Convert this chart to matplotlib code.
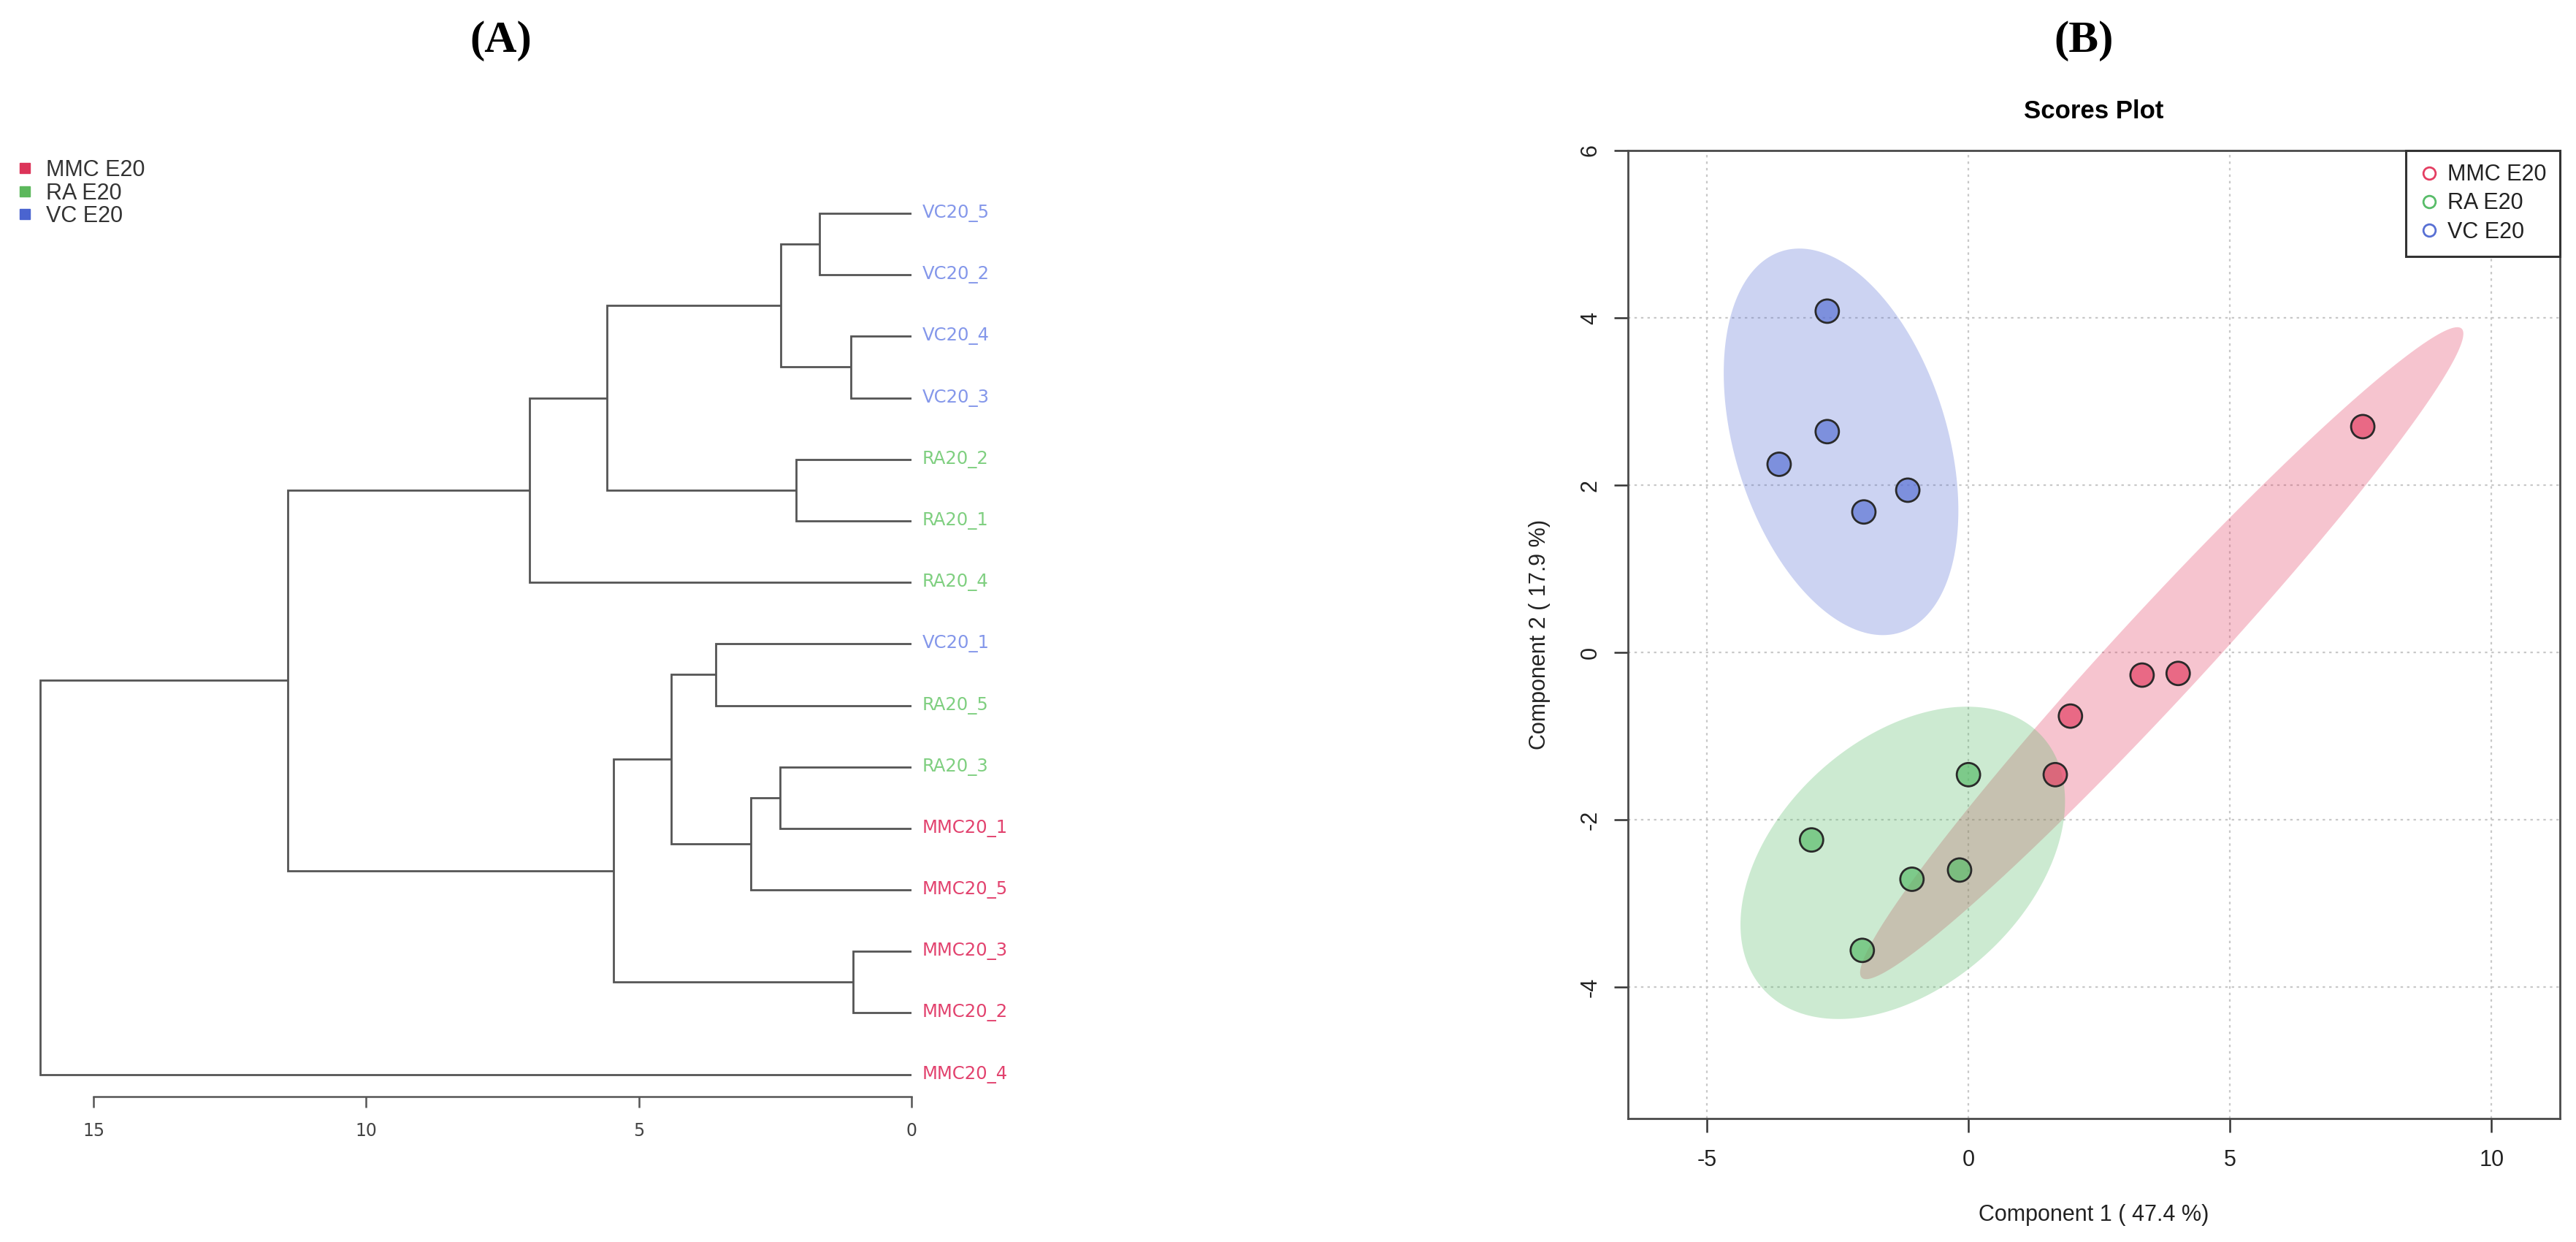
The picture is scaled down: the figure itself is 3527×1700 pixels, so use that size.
import numpy as np
import matplotlib
matplotlib.use('Agg')
import matplotlib.pyplot as plt
from matplotlib.lines import Line2D

# ---------------- data ----------------
group_names = ['MMC E20', 'RA E20', 'VC E20']
legend_colors_a = ['#dc3459', '#5cb85c', '#4a64d0']
label_colors = {'MMC': '#e2426e', 'RA': '#7fcf80', 'VC': '#8497ea'}

leaf_labels = ['VC20_5', 'VC20_2', 'VC20_4', 'VC20_3', 'RA20_2', 'RA20_1', 'RA20_4',
               'VC20_1', 'RA20_5', 'RA20_3', 'MMC20_1', 'MMC20_5', 'MMC20_3', 'MMC20_2', 'MMC20_4']
leaf_groups = ['VC', 'VC', 'VC', 'VC', 'RA', 'RA', 'RA',
               'VC', 'RA', 'RA', 'MMC', 'MMC', 'MMC', 'MMC', 'MMC']
merge_left = ['VC20_5', 'VC20_4', 'm0', 'RA20_2', 'm2', 'm4', 'VC20_1', 'RA20_3', 'm7',
              'm6', 'MMC20_3', 'm9', 'm5', 'm12']
merge_right = ['VC20_2', 'VC20_3', 'm1', 'RA20_1', 'm3', 'RA20_4', 'RA20_5', 'MMC20_1',
               'MMC20_5', 'm8', 'MMC20_2', 'm10', 'm11', 'MMC20_4']
merge_height = [1.69, 1.11, 2.40, 2.12, 5.58, 7.00, 3.59, 2.41, 2.94, 4.40, 1.07, 5.47, 11.44, 15.98]
dendro_ticks = [15, 10, 5, 0]

mmc_x = [7.54, 3.32, 4.01, 1.95, 1.66]
mmc_y = [2.70, -0.27, -0.25, -0.76, -1.46]
ra_x = [0.00, -3.00, -1.08, -0.17, -2.03]
ra_y = [-1.46, -2.24, -2.71, -2.60, -3.56]
vc_x = [-2.70, -2.70, -3.62, -1.16, -2.00]
vc_y = [4.08, 2.64, 2.25, 1.94, 1.68]
score_colors = ['#e43e62', '#58bc69', '#5870d4']
x_ticks = [-5, 0, 5, 10]
y_ticks = [-4, -2, 0, 2, 4, 6]

# ---------------- figure ----------------
W, H = 3527, 1700
fig = plt.figure(figsize=(W / 100, H / 100), dpi=100)


def add_ax(l, t, r, b):
    return fig.add_axes([l / W, 1 - b / H, (r - l) / W, (b - t) / H])


SANS = ['Liberation Sans', 'DejaVu Sans']
SERIF = ['Liberation Serif', 'DejaVu Serif']

# panel titles
fig.text(686 / W, 1 - 56 / H, '(A)', ha='center', va='center', fontsize=44,
         fontweight='bold', family=SERIF)
fig.text(2853 / W, 1 - 56 / H, '(B)', ha='center', va='center', fontsize=44,
         fontweight='bold', family=SERIF)

# ---------------- panel A : dendrogram ----------------
axA = add_ax(16, 230, 1248, 1501)
axA.set_xlim(16.5, 0)
axA.set_ylim(14.36, -0.736)
line_col = '#555555'

pos = {}
for i, name in enumerate(leaf_labels):
    pos[name] = (float(i), 0.0)
for k, (l, r, h) in enumerate(zip(merge_left, merge_right, merge_height)):
    yl, hl = pos[l]
    yr, hr = pos[r]
    axA.plot([hl, h, h, hr], [yl, yl, yr, yr], color=line_col, lw=2.0,
             solid_joinstyle='miter', solid_capstyle='butt')
    pos['m%d' % k] = ((yl + yr) / 2, h)

for i, (name, g) in enumerate(zip(leaf_labels, leaf_groups)):
    axA.annotate(name, xy=(0, i), xytext=(10.5, 0), textcoords='offset points',
                 ha='left', va='center', fontsize=17.5, color=label_colors[g],
                 family=['DejaVu Sans'], annotation_clip=False)

for s in ['top', 'left', 'right']:
    axA.spines[s].set_visible(False)
axA.spines['bottom'].set_bounds(min(dendro_ticks), max(dendro_ticks))
axA.spines['bottom'].set_color(line_col)
axA.spines['bottom'].set_linewidth(1.8)
axA.set_yticks([])
axA.set_xticks(dendro_ticks)
axA.set_xticklabels([str(t) for t in dendro_ticks], family=['DejaVu Sans'])
axA.tick_params(axis='x', length=11, width=1.8, color=line_col, labelsize=17,
                labelcolor='#444444', pad=14)

handles_a = [Line2D([], [], marker='s', ls='', color=c, markersize=10) for c in legend_colors_a]
axA.legend(handles_a, group_names, loc='upper left', bbox_to_anchor=(22 / W, 1 - 218 / H),
           bbox_transform=fig.transFigure, frameon=False, borderpad=0, borderaxespad=0,
           handlelength=0.8, handletextpad=0.55, labelspacing=0.05,
           prop={'family': SANS, 'size': 22}, labelcolor='#333333')

# ---------------- panel B : scores plot ----------------
axB = add_ax(2229, 206, 3505, 1531)
axB.set_xlim(-6.51, 11.31)
axB.set_ylim(-5.57, 6.0)
axB.grid(True, color='#c8c8c8', ls=(0, (1.5, 2.5)), lw=1.6)
axB.set_axisbelow(True)


def conf_ellipse(x, y, chi2=5.991464547107979, n=240):
    x = np.asarray(x, float)
    y = np.asarray(y, float)
    cov = np.cov(x, y)
    vals, vecs = np.linalg.eigh(cov)
    t = np.linspace(0, 2 * np.pi, n)
    circ = np.vstack([np.cos(t), np.sin(t)])
    pts = vecs @ (np.sqrt(vals * chi2)[:, None] * circ)
    return pts[0] + x.mean(), pts[1] + y.mean()


groups_xy = [(mmc_x, mmc_y), (ra_x, ra_y), (vc_x, vc_y)]
for (gx, gy), c in zip(groups_xy, score_colors):
    ex, ey = conf_ellipse(gx, gy)
    axB.fill(ex, ey, color=c, alpha=0.3, lw=0, zorder=1)
for (gx, gy), c in zip(groups_xy, score_colors):
    axB.scatter(gx, gy, s=530, facecolor=c, alpha=0.68, edgecolor='none', zorder=3)
    axB.scatter(gx, gy, s=530, facecolor='none', edgecolor='#2a2a2a', lw=2.0, zorder=4)

for s in axB.spines.values():
    s.set_color('#4a4a4a')
    s.set_linewidth(2.0)
axB.set_xticks(x_ticks)
axB.set_yticks(y_ticks)
axB.set_xticklabels([str(t) for t in x_ticks], family=SANS)
axB.set_yticklabels([str(t) for t in y_ticks], family=SANS, rotation=90, va='center')
axB.tick_params(axis='both', length=14, width=1.8, color='#333333', labelsize=22,
                labelcolor='#222222')
axB.tick_params(axis='x', pad=16)
axB.tick_params(axis='y', pad=12)

axB.set_xlabel('Component 1 ( 47.4 %)', family=SANS, fontsize=22, color='#222222')
axB.xaxis.set_label_coords(0.5, (1531 - 1663) / 1325)
axB.xaxis.label.set_va('center')
axB.set_ylabel('Component 2 ( 17.9 %)', family=SANS, fontsize=22, color='#222222')
axB.yaxis.set_label_coords((2108 - 2229) / 1276, 0.5)
axB.yaxis.label.set_va('center')
axB.text(0.5, 1 + (206 - 152) / 1325, 'Scores Plot', transform=axB.transAxes,
         ha='center', va='center', fontsize=25, fontweight='bold', family=SANS)

handles_b = [Line2D([], [], marker='o', ls='', markerfacecolor='none', markeredgecolor=c,
                    markeredgewidth=2.0, markersize=12) for c in score_colors]
legB = axB.legend(handles_b, group_names, loc='upper right', bbox_to_anchor=(1, 1),
                  borderaxespad=0, borderpad=0.6, handlelength=0.92, handletextpad=0.36,
                  labelspacing=0.3, fancybox=False, framealpha=1,
                  prop={'family': SANS, 'size': 22}, labelcolor='#222222')
legB.get_frame().set_edgecolor('#333333')
legB.get_frame().set_linewidth(2.2)

fig.savefig('out.png', dpi=100, facecolor='white')
